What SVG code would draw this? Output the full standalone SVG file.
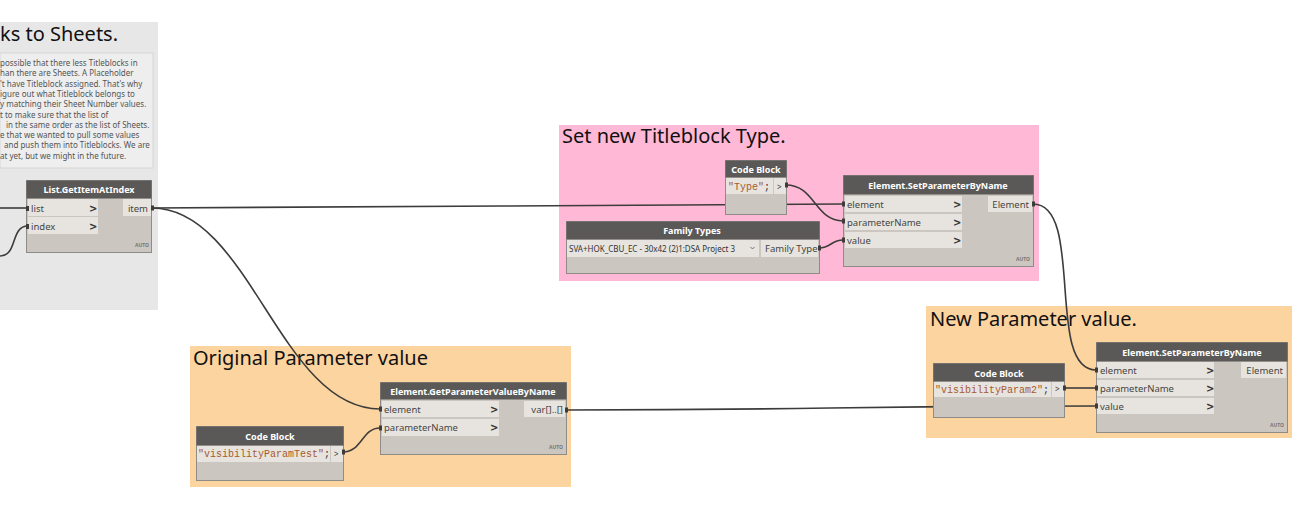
<svg xmlns="http://www.w3.org/2000/svg" width="1310" height="526" viewBox="0 0 1310 526">
<style>
.gtitle{font-family:"Noto Sans","Open Sans",sans-serif;font-size:20px;fill:#111}
.note{font-family:"Noto Sans","Open Sans",sans-serif;font-size:8px;fill:#555}
.hdr{fill:#5b5957}
.body{fill:#cbc7c0;stroke:#8f8b86;stroke-width:1}
.row{fill:#e7e4df}
.ntitle{font-family:"Noto Sans","Open Sans",sans-serif;font-size:9px;font-weight:bold;fill:#fff;text-anchor:middle}
.port{font-family:"Noto Sans","Open Sans",sans-serif;font-size:9.5px;fill:#444}
.portr{font-family:"Noto Sans","Open Sans",sans-serif;font-size:9.5px;fill:#444;text-anchor:end}
.chev{font-family:"DejaVu Sans",sans-serif;font-size:10px;font-weight:bold;fill:#333}
.auto{font-family:"Noto Sans",sans-serif;font-size:5px;font-weight:bold;fill:#777;text-anchor:end}
.code{font-family:"Liberation Mono","DejaVu Sans Mono",monospace;font-size:10px;fill:#333}
.str{fill:#a65a2b}
.small{font-family:"Noto Sans",sans-serif;font-size:8px;fill:#333}
.wire{fill:none;stroke:#3e3c3a;stroke-width:1.6}
.pin{fill:#3e3c3a}
</style>
<rect width="1310" height="526" fill="#ffffff"/>

<g id="groups">
  <rect x="0" y="22" width="158" height="288" fill="#e7e7e7"/>
  <text class="gtitle" x="0" y="41">ks to Sheets.</text>
  <rect x="0" y="53" width="153" height="115" fill="#eeeeee" stroke="#d6d6d6"/>
  <text class="note" x="0" y="66">possible that there less Titleblocks in</text>
  <text class="note" x="0" y="76.3">han there are Sheets. A Placeholder</text>
  <text class="note" x="0" y="86.6">'t have Titleblock assigned. That's why</text>
  <text class="note" x="0" y="96.9">igure out what Titleblock belongs to</text>
  <text class="note" x="0" y="107.2">y matching their Sheet Number values.</text>
  <text class="note" x="0" y="117.5">t to make sure that the list of</text>
  <text class="note" x="6" y="127.8">in the same order as the list of Sheets.</text>
  <text class="note" x="0" y="138.1">e that we wanted to pull some values</text>
  <text class="note" x="4" y="148.4">and push them into Titleblocks. We are</text>
  <text class="note" x="0" y="158.7">at yet, but we might in the future.</text>

  <rect x="559" y="125" width="480" height="156" fill="#ffb9d6"/>
  <text class="gtitle" x="562" y="143">Set new Titleblock Type.</text>

  <rect x="190" y="346" width="381" height="141" fill="#fcd4a0"/>
  <text class="gtitle" x="193" y="365">Original Parameter value</text>

  <rect x="926" y="306" width="366" height="132" fill="#fcd4a0"/>
  <text class="gtitle" x="930" y="326">New Parameter value.</text>
</g>

<g id="connectors">
  <path class="wire" d="M0,208 L28,208"/>
  <path class="wire" d="M0,256 C18,256 10,226 28,226"/>
  <path class="wire" d="M152,208 C500,208 500,204 843,204"/>
  <path class="wire" d="M152,208 C250,208 280,409 380,409"/>
  <path class="wire" d="M786,185 C815,185 815,221 843,221"/>
  <path class="wire" d="M819,248 C831,248 831,240 843,240"/>
  <path class="wire" d="M1033,204 C1085,204 1045,370 1096,370"/>
  <path class="wire" d="M343,452 C362,452 362,428 380,428"/>
  <path class="wire" d="M566,410 C830,410 830,406 1096,406"/>
  <path class="wire" d="M1064,388 L1096,388"/>
</g>

<g id="node-getitem">
  <rect class="body" x="26.5" y="180.5" width="125" height="72"/>
  <rect class="hdr" x="26.5" y="180.5" width="125" height="18"/>
  <text class="ntitle" x="89" y="193">List.GetItemAtIndex</text>
  <rect class="row" x="28" y="199" width="70" height="17"/>
  <rect class="row" x="28" y="217" width="70" height="17"/>
  <text class="port" x="31" y="211.5">list</text>
  <text class="port" x="31" y="229.5">index</text>
  <text class="chev" x="89" y="211.5">&gt;</text>
  <text class="chev" x="89" y="229.5">&gt;</text>
  <rect class="row" x="123" y="199" width="28" height="17"/>
  <text class="portr" x="148" y="211.5">item</text>
  <text class="auto" x="149" y="247">AUTO</text>
  <rect class="pin" x="26" y="206" width="3" height="5"/>
  <rect class="pin" x="26" y="224" width="3" height="5"/>
  <rect class="pin" x="151" y="205.5" width="3" height="5"/>
</g>

<g id="node-codeblock-type">
  <rect class="body" x="725.5" y="160.5" width="61" height="54"/>
  <rect class="hdr" x="725.5" y="160.5" width="61" height="17"/>
  <text class="ntitle" x="756" y="172.5">Code Block</text>
  <rect class="row" x="726" y="178" width="47" height="16"/>
  <rect class="row" x="774" y="178" width="12" height="16"/>
  <text class="code" x="728" y="190"><tspan class="str">"Type"</tspan>;</text>
  <text class="small" x="777" y="189.5" font-size="7">&gt;</text>
  <rect class="pin" x="785" y="182.5" width="3" height="5"/>
</g>

<g id="node-familytypes">
  <rect class="body" x="566.5" y="221.5" width="253" height="52"/>
  <rect class="hdr" x="566.5" y="221.5" width="253" height="18"/>
  <text class="ntitle" x="692" y="234">Family Types</text>
  <rect class="row" x="567" y="240" width="192" height="17"/>
  <rect class="row" x="761" y="240" width="57" height="17"/>
  <text class="small" x="569" y="251.5">SVA+HOK_CBU_EC - 30x42 (2)1:DSA Project 3</text>
  <polyline points="750.5,247 752.5,249 754.5,247" fill="none" stroke="#666" stroke-width="0.9"/>
  <text class="port" x="765" y="252">Family Type</text>
  <rect class="pin" x="818" y="245.5" width="3" height="5"/>
</g>

<g id="node-setparam-1">
  <rect class="body" x="843.5" y="175.5" width="190" height="91"/>
  <rect class="hdr" x="843.5" y="175.5" width="190" height="19"/>
  <text class="ntitle" x="938" y="189">Element.SetParameterByName</text>
  <rect class="row" x="845" y="196" width="117" height="16"/>
  <rect class="row" x="845" y="214" width="117" height="16"/>
  <rect class="row" x="845" y="232" width="117" height="16"/>
  <text class="port" x="847" y="207.5">element</text>
  <text class="port" x="847" y="225.5">parameterName</text>
  <text class="port" x="847" y="243.5">value</text>
  <text class="chev" x="953" y="207.5">&gt;</text>
  <text class="chev" x="953" y="225.5">&gt;</text>
  <text class="chev" x="953" y="243.5">&gt;</text>
  <rect class="row" x="988" y="196" width="44" height="16"/>
  <text class="portr" x="1029" y="207.5">Element</text>
  <text class="auto" x="1030" y="261">AUTO</text>
  <rect class="pin" x="842" y="201.5" width="3" height="5"/>
  <rect class="pin" x="842" y="218.5" width="3" height="5"/>
  <rect class="pin" x="842" y="237.5" width="3" height="5"/>
  <rect class="pin" x="1032" y="201.5" width="3" height="5"/>
</g>

<g id="node-getparam">
  <rect class="body" x="380.5" y="382.5" width="186" height="72"/>
  <rect class="hdr" x="380.5" y="382.5" width="186" height="17"/>
  <text class="ntitle" x="473" y="395">Element.GetParameterValueByName</text>
  <rect class="row" x="382" y="401" width="117" height="16"/>
  <rect class="row" x="382" y="419" width="117" height="17"/>
  <text class="port" x="384" y="412.5">element</text>
  <text class="port" x="384" y="431">parameterName</text>
  <text class="chev" x="490" y="412.5">&gt;</text>
  <text class="chev" x="490" y="431">&gt;</text>
  <rect class="row" x="524" y="401" width="41" height="16"/>
  <text class="portr" x="563" y="412.5">var[]..[]</text>
  <text class="auto" x="563" y="449">AUTO</text>
  <rect class="pin" x="379" y="406.5" width="3" height="5"/>
  <rect class="pin" x="379" y="425.5" width="3" height="5"/>
  <rect class="pin" x="565" y="407.5" width="3" height="5"/>
</g>

<g id="node-codeblock-vpt">
  <rect class="body" x="196.5" y="426.5" width="147" height="54"/>
  <rect class="hdr" x="196.5" y="426.5" width="147" height="19"/>
  <text class="ntitle" x="270" y="440">Code Block</text>
  <rect class="row" x="197" y="446" width="133" height="16"/>
  <rect class="row" x="331" y="446" width="12" height="16"/>
  <text class="code" x="198" y="457"><tspan class="str">"visibilityParamTest"</tspan>;</text>
  <text class="small" x="334" y="457" font-size="7">&gt;</text>
  <rect class="pin" x="342" y="449.5" width="3" height="5"/>
</g>

<g id="node-codeblock-vp2">
  <rect class="body" x="933.5" y="363.5" width="131" height="54"/>
  <rect class="hdr" x="933.5" y="363.5" width="131" height="18"/>
  <text class="ntitle" x="999" y="376.5">Code Block</text>
  <rect class="row" x="934" y="382" width="117" height="15"/>
  <rect class="row" x="1052" y="382" width="12" height="15"/>
  <text class="code" x="935" y="392.5"><tspan class="str">"visibilityParam2"</tspan>;</text>
  <text class="small" x="1055" y="392" font-size="7">&gt;</text>
  <rect class="pin" x="1063" y="385.5" width="3" height="5"/>
</g>

<g id="node-setparam-2">
  <rect class="body" x="1096.5" y="342.5" width="191" height="90"/>
  <rect class="hdr" x="1096.5" y="342.5" width="191" height="19"/>
  <text class="ntitle" x="1192" y="355.5">Element.SetParameterByName</text>
  <rect class="row" x="1097" y="362" width="117" height="16"/>
  <rect class="row" x="1097" y="380" width="117" height="16"/>
  <rect class="row" x="1097" y="398" width="117" height="16"/>
  <text class="port" x="1100" y="373.5">element</text>
  <text class="port" x="1100" y="391.5">parameterName</text>
  <text class="port" x="1100" y="409.5">value</text>
  <text class="chev" x="1206" y="373.5">&gt;</text>
  <text class="chev" x="1206" y="391.5">&gt;</text>
  <text class="chev" x="1206" y="409.5">&gt;</text>
  <rect class="row" x="1241" y="362" width="45" height="16"/>
  <text class="portr" x="1283" y="373.5">Element</text>
  <text class="auto" x="1284" y="427">AUTO</text>
  <rect class="pin" x="1095" y="367.5" width="3" height="5"/>
  <rect class="pin" x="1095" y="385.5" width="3" height="5"/>
  <rect class="pin" x="1095" y="403.5" width="3" height="5"/>
</g>
</svg>
